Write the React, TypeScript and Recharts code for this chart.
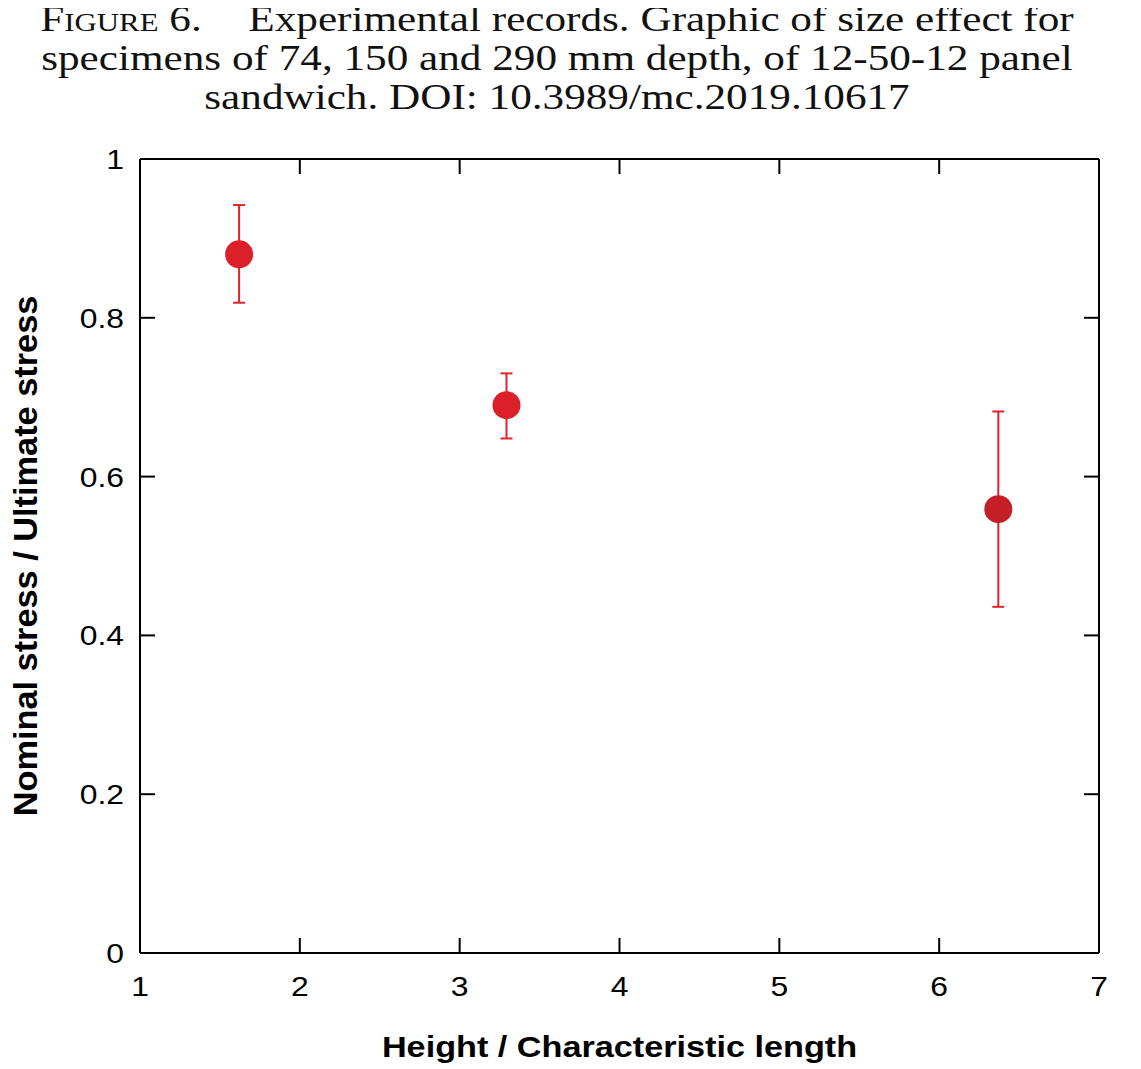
import React from "react";
import { ScatterChart, Scatter, XAxis, YAxis, ErrorBar, Cell, ReferenceLine, Label } from "recharts";

// Data
const ratioX = [1.62, 3.293, 6.37];
const stressY = [0.88, 0.69, 0.559];
const errLow = [0.061, 0.042, 0.123];
const errHigh = [0.062, 0.04, 0.123];
const xTicks = [1, 2, 3, 4, 5, 6, 7];
const yTicks = [0, 0.2, 0.4, 0.6, 0.8, 1];
const xTickLabels = ["1", "2", "3", "4", "5", "6", "7"];
const yTickLabels = ["0", "0.2", "0.4", "0.6", "0.8", "1"];

const pointColors = ["#dc2029", "#dc2029", "#c41f27"];
const errColor = "#e2232c";

const data = ratioX.map((x, i) => ({ x, y: stressY[i], err: [errLow[i], errHigh[i]] }));

const W = 1125;
const H = 1061;
const PLOT_LEFT = 132;
const PLOT_TOP = 151;
const PLOT_RIGHT = 1091;
const PLOT_BOTTOM = 945;
const PLOT_W = PLOT_RIGHT - PLOT_LEFT;
const PLOT_H = PLOT_BOTTOM - PLOT_TOP;
const TICK = 15;
const SX = 1.18;
const SANS = "'Liberation Sans', Arial, Helvetica, sans-serif";

const XTick = (props: any) => {
  const { x, y, payload } = props;
  const idx = xTicks.indexOf(payload.value);
  return (
    <g>
      <line x1={x} y1={y} x2={x} y2={y - TICK} stroke="#000" strokeWidth={2} />
      <line x1={x} y1={y - PLOT_H} x2={x} y2={y - PLOT_H + TICK} stroke="#000" strokeWidth={2} />
      <text
        transform={`translate(${x}, ${y + 43}) scale(${SX}, 1)`}
        textAnchor="middle"
        fontFamily={SANS}
        fontSize={27}
        fill="#000"
      >
        {idx >= 0 ? xTickLabels[idx] : payload.value}
      </text>
    </g>
  );
};

const YTick = (props: any) => {
  const { x, y, payload } = props;
  const idx = yTicks.indexOf(payload.value);
  return (
    <g>
      <line x1={x} y1={y} x2={x + TICK} y2={y} stroke="#000" strokeWidth={2} />
      <line x1={x + PLOT_W} y1={y} x2={x + PLOT_W - TICK} y2={y} stroke="#000" strokeWidth={2} />
      <text
        transform={`translate(${x - 16}, ${y + 10}) scale(${SX}, 1)`}
        textAnchor="end"
        fontFamily={SANS}
        fontSize={27}
        fill="#000"
      >
        {idx >= 0 ? yTickLabels[idx] : payload.value}
      </text>
    </g>
  );
};

const Dot = (props: any) => {
  const { cx, cy, fill } = props;
  return <circle cx={cx} cy={cy} r={14} fill={fill} />;
};

const lineStyle: React.CSSProperties = {
  transform: "scaleX(1.234)",
  transformOrigin: "center",
  height: 39,
  lineHeight: "39px",
};

export default function App() {
  return (
    <div style={{ position: "relative", width: W, height: H }}>
      <div style={{ position: "absolute", left: 0, top: 0 }}>
        <ScatterChart
          width={W}
          height={H}
          margin={{ top: PLOT_TOP, right: W - PLOT_RIGHT, bottom: H - PLOT_BOTTOM - 30, left: PLOT_LEFT - 60 }}
        >
          <XAxis
            type="number"
            dataKey="x"
            domain={[1, 7]}
            ticks={xTicks}
            allowDataOverflow
            height={30}
            tickSize={0}
            tickMargin={0}
            tickLine={false}
            axisLine={{ stroke: "#000", strokeWidth: 2 }}
            tick={<XTick />}
            interval={0}
          >
            <Label
              content={() => (
                <text
                  transform={`translate(${(PLOT_LEFT + PLOT_RIGHT) / 2}, 1049) scale(${SX}, 1)`}
                  textAnchor="middle"
                  fontFamily={SANS}
                  fontWeight="bold"
                  fontSize={29}
                  fill="#000"
                >
                  Height / Characteristic length
                </text>
              )}
            />
          </XAxis>
          <YAxis
            type="number"
            dataKey="y"
            domain={[0, 1]}
            ticks={yTicks}
            allowDataOverflow
            width={60}
            tickSize={0}
            tickMargin={0}
            tickLine={false}
            axisLine={{ stroke: "#000", strokeWidth: 2 }}
            tick={<YTick />}
            interval={0}
          >
            <Label
              content={() => (
                <text
                  transform={`translate(29, ${(PLOT_TOP + PLOT_BOTTOM) / 2}) rotate(-90) scale(1.04, 1)`}
                  textAnchor="middle"
                  fontFamily={SANS}
                  fontWeight="bold"
                  fontSize={33}
                  fill="#000"
                >
                  Nominal stress / Ultimate stress
                </text>
              )}
            />
          </YAxis>
          <ReferenceLine y={1} stroke="#000" strokeWidth={2} ifOverflow="extendDomain" />
          <ReferenceLine x={7} stroke="#000" strokeWidth={2} ifOverflow="extendDomain" />
          <Scatter data={data} isAnimationActive={false} shape={<Dot />}>
            <ErrorBar dataKey="err" direction="y" width={6} stroke={errColor} strokeWidth={2} />
            {data.map((_, i) => (
              <Cell key={i} fill={pointColors[i]} />
            ))}
          </Scatter>
        </ScatterChart>
      </div>
      <div
        style={{
          position: "absolute",
          left: 0,
          top: -8,
          width: 1098,
          zIndex: 2,
          textAlign: "center",
          fontFamily: "'Liberation Serif', 'Times New Roman', serif",
          fontSize: 35,
          color: "#111",
          whiteSpace: "nowrap",
        }}
      >
        <div style={lineStyle}>
          <span style={{ fontVariant: "small-caps" }}>Figure</span> 6.
          <span style={{ display: "inline-block", width: 29 }} /> Experimental records. Graphic of size effect for
        </div>
        <div style={lineStyle}>specimens of 74, 150 and 290 mm depth, of 12-50-12 panel</div>
        <div style={lineStyle}>sandwich. DOI: 10.3989/mc.2019.10617</div>
      </div>
    </div>
  );
}
